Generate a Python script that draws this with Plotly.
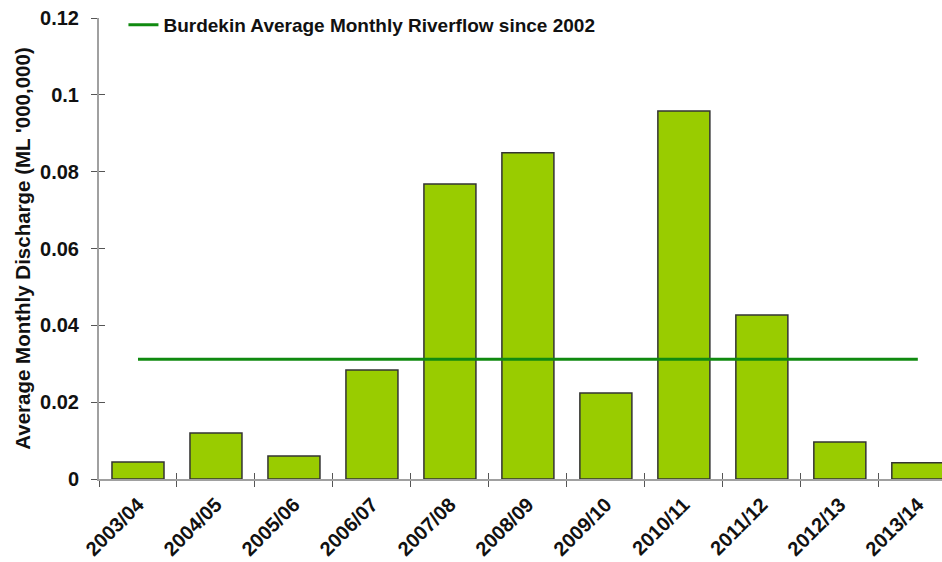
import plotly.graph_objects as go

# Financial years and average monthly discharge (ML '000,000)
years = ["2003/04", "2004/05", "2005/06", "2006/07", "2007/08", "2008/09",
         "2009/10", "2010/11", "2011/12", "2012/13", "2013/14"]
discharge = [0.0044, 0.0120, 0.0060, 0.0284, 0.0768, 0.0849,
             0.0224, 0.0958, 0.0427, 0.0096, 0.0042]
average_since_2002 = 0.0312
average_series = [average_since_2002] * len(years)

y_ticks = [0, 0.02, 0.04, 0.06, 0.08, 0.1, 0.12]
y_tick_text = ["0", "0.02", "0.04", "0.06", "0.08", "0.1", "0.12"]

FONT = "Liberation Sans, Arial, sans-serif"
AXIS_GREY = "#a0a0a0"
TICK_GREY = "#555555"
TEXT = "#111111"

fig = go.Figure()
fig.add_trace(go.Bar(
    x=years, y=discharge,
    marker=dict(color="#99cc00", line=dict(color="#333333", width=1.5)),
    width=0.667, showlegend=False,
))
fig.add_trace(go.Scatter(
    x=years, y=average_series, mode="lines",
    line=dict(color="#108a10", width=3),
    name="Burdekin Average Monthly Riverflow since 2002",
))

# transparent copy of the bars on the overlay axes so their ticks are drawn
fig.add_trace(go.Scatter(
    x=years, y=discharge, xaxis="x2", yaxis="y2", mode="markers",
    marker=dict(opacity=0), showlegend=False, hoverinfo="skip",
))

x_range = [-0.5, 10.31]
y_range = [0, 0.12]

fig.update_layout(
    width=942, height=562,
    margin=dict(l=99, r=0, t=18, b=83),
    paper_bgcolor="white", plot_bgcolor="white",
    font=dict(family=FONT, color=TEXT),
    legend=dict(
        x=0.029, y=0.985, xanchor="left", yanchor="middle",
        bgcolor="rgba(0,0,0,0)",
        font=dict(family=FONT, size=19, weight="bold", color=TEXT),
    ),
    xaxis=dict(
        type="category", range=x_range, tickson="boundaries",
        showline=True, linecolor=AXIS_GREY, linewidth=2,
        ticks="outside", ticklen=6, tickcolor=TICK_GREY, tickwidth=1,
        showgrid=False, zeroline=False,
        tickangle=-45, ticklabelstandoff=4,
        tickfont=dict(family=FONT, size=20, weight="bold", color=TEXT),
    ),
    yaxis=dict(
        range=y_range, tickvals=y_ticks, ticktext=y_tick_text,
        showline=True, linecolor=AXIS_GREY, linewidth=2,
        ticks="outside", ticklen=6, tickcolor=TICK_GREY, tickwidth=1,
        showgrid=False, zeroline=False,
        ticklabelstandoff=8,
        tickfont=dict(family=FONT, size=20, weight="bold", color=TEXT),
        title=dict(text="Average Monthly Discharge (ML '000,000)", standoff=4,
                   font=dict(family=FONT, size=20.5, weight="bold", color=TEXT)),
    ),
    # overlay axes supply the inner half of the crossing tick marks
    xaxis2=dict(
        type="category", range=x_range, overlaying="x", anchor="y2", side="bottom",
        categoryorder="array", categoryarray=years, tickson="boundaries",
        ticks="inside", ticklen=6, tickcolor=TICK_GREY, tickwidth=1,
        showticklabels=False, showgrid=False, zeroline=False, showline=False,
    ),
    yaxis2=dict(
        range=y_range, tickvals=y_ticks, overlaying="y", anchor="x2", side="left",
        ticks="inside", ticklen=6, tickcolor=TICK_GREY, tickwidth=1,
        showticklabels=False, showgrid=False, zeroline=False, showline=False,
    ),
)

fig.write_html("out.html")
